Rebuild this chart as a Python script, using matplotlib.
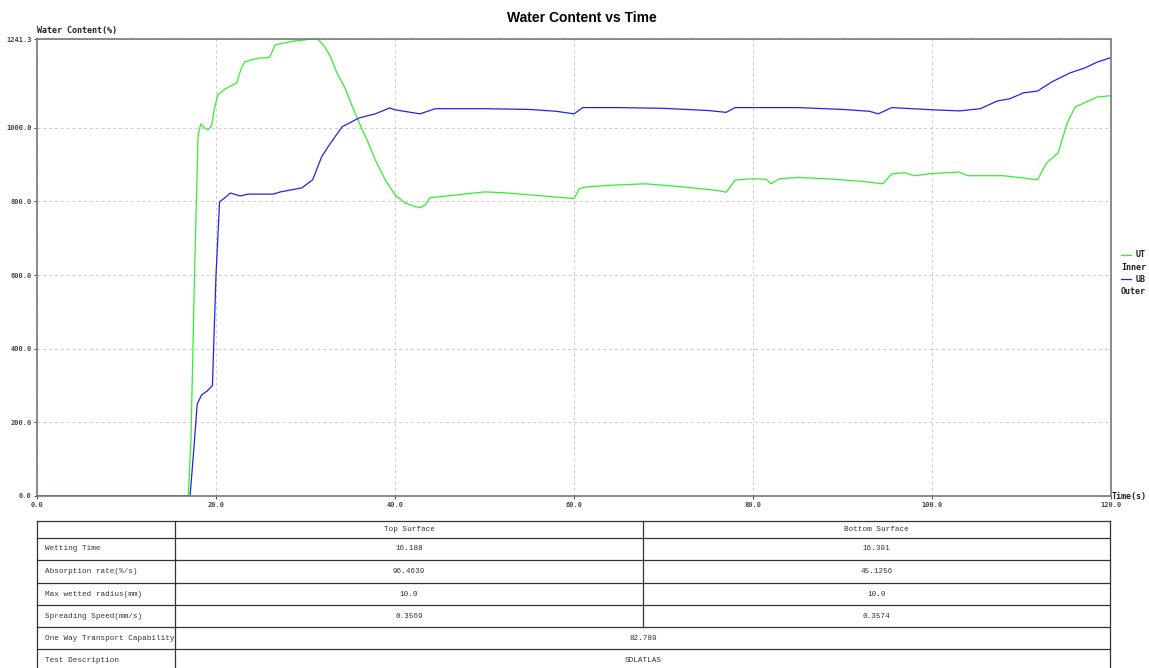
import matplotlib
matplotlib.use('Agg')
import matplotlib.pyplot as plt
import numpy as np

# UT Inner (green)
ut_t = [0, 16.9, 17.2, 17.6, 18.0, 18.3, 18.7, 19.1, 19.5, 19.8, 20.2, 21.0, 22.3, 22.8, 23.2,
        24.0, 24.9, 25.6, 26.0, 26.6, 27.5, 28.8, 30.0, 30.5, 31.4, 32.0, 32.7, 33.5, 34.4,
        35.2, 36.1, 37.0, 37.8, 38.9, 40.0, 41.1, 42.0, 42.8, 43.4, 43.9, 45.0, 47.0, 50.0,
        52.0, 55.0, 58.0, 60.0, 60.6, 61.5, 65.0, 68.0, 72.0, 76.0, 77.0, 78.0, 80.0, 81.5,
        82.0, 83.0, 85.0, 88.0, 92.0, 94.5, 95.5, 97.0, 98.0, 100.0, 103.0, 104.0, 108.0,
        111.8, 112.8, 114.1, 115.1, 116.0, 117.3, 118.5, 119.9]
ut_v = [0, 0, 150, 600, 980, 1011, 1000, 995, 1005, 1050, 1090, 1105, 1122, 1160, 1179,
        1185, 1190, 1190, 1192, 1225, 1230, 1236, 1239, 1241.3, 1240, 1225, 1198, 1150, 1109,
        1060, 1008, 960, 913, 859, 818, 796, 788, 783, 791, 810, 813, 818, 826,
        824, 818, 812, 808, 835, 840, 845, 848, 840, 830, 825, 858, 862, 860,
        848, 862, 865, 862, 855, 848, 875, 878, 870, 876, 880, 870, 870,
        859, 905, 932, 1013, 1057, 1071, 1084, 1087]

# UB Outer (blue)
ub_t = [0, 17.1, 17.5, 17.9, 18.4, 19.0, 19.6, 20.0, 20.4, 21.0, 21.6, 22.7, 23.6, 25.0,
        26.4, 27.2, 29.6, 30.8, 31.8, 32.5, 34.1, 36.0, 37.8, 39.4, 40.0, 42.8, 44.5,
        50.0, 55.0, 58.0, 60.0, 61.0, 65.0, 70.0, 75.0, 77.0, 78.0, 85.0, 90.0, 93.0, 94.0,
        95.5, 100.1, 103.1, 105.4, 107.3, 108.7, 110.2, 111.8, 113.4, 115.4, 117.1, 118.5,
        119.9]
ub_v = [0, 0, 120, 250, 275, 285, 300, 600, 799, 810, 823, 815, 820, 820,
        820, 826, 837, 859, 921, 948, 1003, 1027, 1038, 1054, 1049, 1038, 1052,
        1052, 1050, 1045, 1038, 1055, 1055, 1053, 1047, 1042, 1055, 1055, 1050, 1045, 1038,
        1055, 1049, 1046, 1052, 1073, 1079, 1095, 1100, 1125, 1149, 1163, 1179,
        1190]

x_ticks = [0, 20, 40, 60, 80, 100, 120]
y_ticks = [0, 200, 400, 600, 800, 1000, 1241.3]
legend_names = [('UT', 'Inner'), ('UB', 'Outer')]

row_names = ['Wetting Time', 'Absorption rate(%/s)', 'Max wetted radius(mm)',
             'Spreading Speed(mm/s)']
top_vals = ['16.188', '96.4639', '10.0', '0.3569']
bottom_vals = ['16.391', '45.1256', '10.0', '0.3574']
merged_rows = [('One Way Transport Capability', '82.789'), ('Test Description', 'SDLATLAS')]

W, H = 1149, 668
fig = plt.figure(figsize=(W / 100, H / 100), dpi=100)
ax = fig.add_axes([37 / W, 1 - 496 / H, (1111 - 37) / W, (496 - 39) / H])

l1, = ax.plot(ut_t, ut_v, color='#33ee33', lw=0.9)
l2, = ax.plot(ub_t, ub_v, color='#2222ee', lw=0.9)

ax.set_xlim(0, 120)
ax.set_ylim(0, 1241.3)
ax.set_xticks(x_ticks)
ax.set_xticklabels(['%.1f' % v for v in x_ticks])
ax.set_yticks(y_ticks)
ax.set_yticklabels(['%.1f' % v for v in y_ticks])
ax.tick_params(labelsize=5, length=2, color='#555555', pad=2)
for lab in ax.get_xticklabels() + ax.get_yticklabels():
    lab.set_family('DejaVu Sans Mono')
    lab.set_fontweight('bold')
    lab.set_color('#444444')
ax.grid(True, ls=(0, (3, 3)), color='#cccccc', lw=0.7)
for s in ax.spines.values():
    s.set_color('#777777')
    s.set_linewidth(1.2)

def fx(p):
    return p / W

def fy(p):
    return 1 - p / H

lab_font = dict(family='DejaVu Sans Mono', fontweight='bold', fontsize=6, color='#222222')
fig.text(582 / W, 1 - 18 / H, 'Water Content vs Time', ha='center', va='center',
         fontsize=10, fontweight='bold', family='Liberation Sans')
fig.text(37 / W, 1 - 30 / H, 'Water Content(%)', ha='left', va='center', **lab_font)
fig.text(1112 / W, 1 - 496 / H, 'Time(s)', ha='left', va='center', **lab_font)

# legend, drawn by hand so the labels wrap like the reference
for k, (line, (a, b)) in enumerate(zip([l1, l2], legend_names)):
    y0 = 255 + 24 * k
    fig.add_artist(plt.Line2D([fx(1121), fx(1131)], [fy(y0), fy(y0)],
                              color=line.get_color(), lw=0.9))
    fig.text(fx(1136), fy(y0), a, ha='left', va='center', **lab_font)
    fig.text(fx(1121), fy(y0 + 12), b, ha='left', va='center', **lab_font)

# table
tl, tr, c1, c2 = 37, 1110, 175, 643
rows_y = [521, 538, 560, 583, 605, 627, 649, 672]
tfont = dict(family='Liberation Mono', fontsize=5.5, color='#333333')
lc = '#333333'
for y in rows_y:
    fig.add_artist(plt.Line2D([fx(tl), fx(tr)], [fy(y), fy(y)], color=lc, lw=0.9))
for x in [tl, c1, tr]:
    fig.add_artist(plt.Line2D([fx(x), fx(x)], [fy(rows_y[0]), fy(rows_y[-1])], color=lc, lw=0.9))
fig.add_artist(plt.Line2D([fx(c2), fx(c2)], [fy(rows_y[0]), fy(rows_y[5])], color=lc, lw=0.9))

def mid(i):
    return fy((rows_y[i] + rows_y[i + 1]) / 2)

fig.text(fx((c1 + c2) / 2), mid(0), 'Top Surface', ha='center', va='center', **tfont)
fig.text(fx((c2 + tr) / 2), mid(0), 'Bottom Surface', ha='center', va='center', **tfont)
for i, name in enumerate(row_names):
    fig.text(fx(tl + 8), mid(i + 1), name, ha='left', va='center', **tfont)
    fig.text(fx((c1 + c2) / 2), mid(i + 1), top_vals[i], ha='center', va='center', **tfont)
    fig.text(fx((c2 + tr) / 2), mid(i + 1), bottom_vals[i], ha='center', va='center', **tfont)
for j, (name, val) in enumerate(merged_rows):
    i = 5 + j
    fig.text(fx(tl + 8), mid(i), name, ha='left', va='center', **tfont)
    fig.text(fx(c2), mid(i), val, ha='center', va='center', **tfont)

fig.savefig('out.png', dpi=100)
